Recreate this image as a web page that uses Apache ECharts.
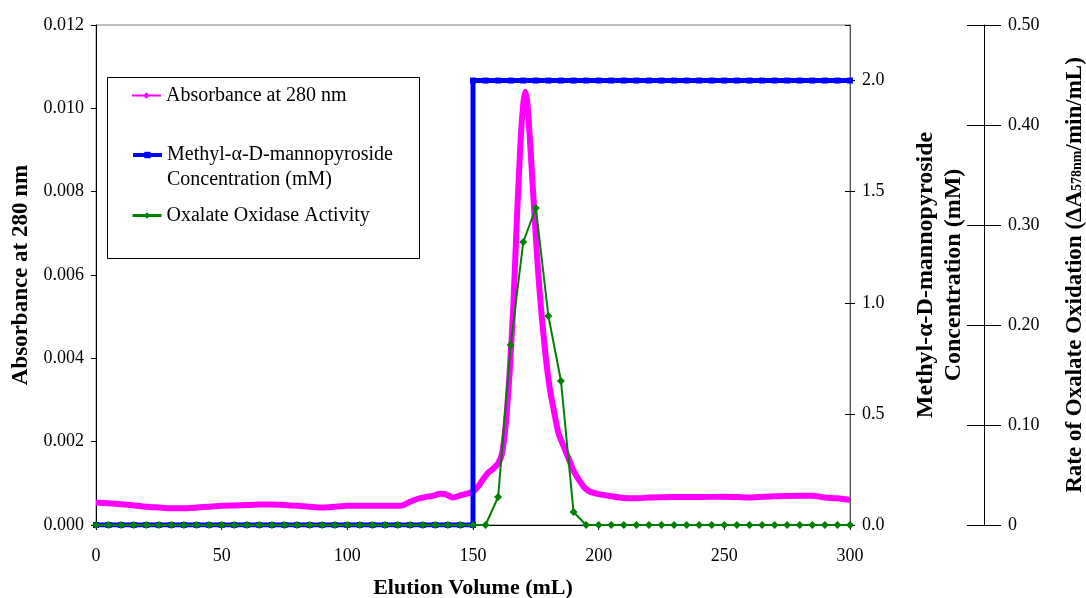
<!DOCTYPE html>
<html><head><meta charset="utf-8">
<script src="https://cdn.jsdelivr.net/npm/echarts@6/dist/echarts.min.js"></script>
<style>html,body{margin:0;padding:0;background:#fff}#c{width:1086px;height:598px}</style>
</head><body><div id="c"></div>
<script>
// ---- data ----
const absVol = [0,5,10,15,20,25,30,35,40,45,50,55,60,65,70,75,80,85,90,95,100,105,110,115,120,122,125,128,131,134,137,139,142,145,148,150,152,154,156,158,160,161.5,163,164.5,166,167.5,169,170,170.8,171.7,173,174.5,176,177.5,179,180.5,182,184,186,188,190,192,194,196,198,200,205,210,215,220,230,240,250,260,270,280,285,290,295,300];
const absVal = [0.00054,0.00052,0.0005,0.00047,0.00044,0.00042,0.0004,0.0004,0.00042,0.00044,0.00046,0.00047,0.00048,0.00049,0.00049,0.00048,0.00046,0.00044,0.00042,0.00044,0.00046,0.00046,0.00046,0.00046,0.00046,0.00047,0.00056,0.00063,0.00067,0.0007,0.00075,0.00074,0.00066,0.00071,0.00076,0.0008,0.00092,0.0011,0.00125,0.00135,0.00148,0.0017,0.0024,0.0036,0.0052,0.0074,0.0093,0.0101,0.0104,0.0101,0.0089,0.0074,0.006,0.0049,0.004,0.0033,0.0028,0.0022,0.0019,0.0016,0.0013,0.0011,0.00092,0.00082,0.00077,0.00074,0.00069,0.00065,0.00064,0.00066,0.00067,0.00067,0.00068,0.00066,0.00069,0.0007,0.0007,0.00066,0.00064,0.0006];

const concVol = [0,5,10,15,20,25,30,35,40,45,50,55,60,65,70,75,80,85,90,95,100,105,110,115,120,125,130,135,140,145,150,150,155,160,165,170,175,180,185,190,195,200,205,210,215,220,225,230,235,240,245,250,255,260,265,270,275,280,285,290,295,300];
const concVal = [0,0,0,0,0,0,0,0,0,0,0,0,0,0,0,0,0,0,0,0,0,0,0,0,0,0,0,0,0,0,0,2,2,2,2,2,2,2,2,2,2,2,2,2,2,2,2,2,2,2,2,2,2,2,2,2,2,2,2,2,2,2];

const actVol = [0,5,10,15,20,25,30,35,40,45,50,55,60,65,70,75,80,85,90,95,100,105,110,115,120,125,130,135,140,145,150,155,160,165,170,175,180,185,190,195,200,205,210,215,220,225,230,235,240,245,250,255,260,265,270,275,280,285,290,295,300];
const actVal = [0,0,0,0,0,0,0,0,0,0,0,0,0,0,0,0,0,0,0,0,0,0,0,0,0,0,0,0,0,0,0,0,0.028,0.18,0.283,0.317,0.209,0.144,0.013,0,0,0,0,0,0,0,0,0,0,0,0,0,0,0,0,0,0,0,0,0,0];

const NAME_ABS = 'Absorbance at 280 nm';
const NAME_CONC = 'Methyl-α-D-mannopyroside\nConcentration (mM)';
const NAME_ACT = 'Oxalate Oxidase Activity';

const xTitle = 'Elution Volume (mL)';
const yLeftTitle = 'Absorbance at 280 nm';
const yConcTitle = 'Methyl-α-D-mannopyroside\nConcentration (mM)';

// ---- chart ----
const F = 'Liberation Serif';
const zip = (xs, ys) => xs.map((x, i) => [x, ys[i]]);
const chart = echarts.init(document.getElementById('c'), null, {renderer: 'canvas'});
const lab = {fontFamily: F, fontSize: 18, color: '#000'};
const legText = {fontFamily: F, fontSize: 20, color: '#000', lineHeight: 25};

chart.setOption({
  animation: false,
  backgroundColor: '#fff',
  grid: {left: 96, right: 236, top: 25, bottom: 73, show: true, borderColor: '#808080', borderWidth: 1, containLabel: false, outerBoundsMode: 'none'},
  graphic: [{type: 'rect', shape: {x: 107.5, y: 77.5, width: 312, height: 181}, style: {fill: 'none', stroke: '#000', lineWidth: 1}, z: 10}],
  legend: [
    {data: [NAME_ABS], left: 131, top: 83, orient: 'vertical', padding: 0, itemWidth: 29, itemHeight: 8, selectedMode: false, textStyle: legText, lineStyle: {width: 2}},
    {data: [NAME_CONC], left: 131, top: 117.5, orient: 'vertical', padding: 0, itemWidth: 29, itemHeight: 8, selectedMode: false, textStyle: legText, lineStyle: {width: 4}, formatter: n => ' \n' + n},
    {data: [NAME_ACT], left: 131, top: 203, orient: 'vertical', padding: 0, itemWidth: 29, itemHeight: 8, selectedMode: false, textStyle: legText, lineStyle: {width: 3}}
  ],
  xAxis: {
    type: 'value', min: 0, max: 300, interval: 50,
    name: xTitle, nameLocation: 'middle', nameGap: 52,
    nameTextStyle: {fontFamily: F, fontSize: 22, fontWeight: 'bold', color: '#000'},
    axisLine: {lineStyle: {color: '#000', width: 1}},
    axisTick: {inside: false, length: 5, lineStyle: {color: '#000'}},
    axisLabel: Object.assign({margin: 22}, lab),
    splitLine: {show: false}
  },
  yAxis: [
    {
      type: 'value', min: 0, max: 0.012, interval: 0.002, position: 'left',
      name: yLeftTitle, nameLocation: 'middle', nameGap: 61, nameRotate: 90,
      nameTextStyle: {fontFamily: F, fontSize: 23, fontWeight: 'bold', color: '#000'},
      axisLine: {show: true, lineStyle: {color: '#000'}},
      axisTick: {show: true, length: 5, lineStyle: {color: '#000'}},
      axisLabel: Object.assign({margin: 12, formatter: v => v.toFixed(3)}, lab),
      splitLine: {show: false}
    },
    {
      type: 'value', min: 0, max: 2.25, interval: 0.5, position: 'right',
      name: yConcTitle, nameLocation: 'middle', nameGap: 62, nameRotate: 90,
      nameTextStyle: {fontFamily: F, fontSize: 24, fontWeight: 'bold', color: '#000', lineHeight: 28, align: 'center'},
      axisLine: {show: true, lineStyle: {color: '#555'}},
      axisTick: {show: true, length: 5, lineStyle: {color: '#000'}},
      axisLabel: Object.assign({margin: 12, showMaxLabel: false, formatter: v => v.toFixed(1)}, lab),
      splitLine: {show: false}
    },
    {
      type: 'value', min: 0, max: 0.5, interval: 0.1, position: 'right', offset: 134,
      name: '{b|Rate of Oxalate Oxidation (ΔA}{s|578nm}{b|/min/mL)}', nameLocation: 'middle', nameGap: 80, nameRotate: 90,
      nameTextStyle: {rich: {
        b: {fontFamily: F, fontSize: 23, fontWeight: 'bold', color: '#000', lineHeight: 22},
        s: {fontFamily: F, fontSize: 14, fontWeight: 'bold', color: '#000', lineHeight: 22, padding: [5, 0, 0, 0]}
      }},
      axisLine: {show: true, lineStyle: {color: '#000'}},
      axisTick: {show: true, length: 17, lineStyle: {color: '#000'}},
      axisLabel: Object.assign({margin: 24, formatter: v => v === 0 ? '0' : v.toFixed(2)}, lab),
      splitLine: {show: false}
    },
    {
      type: 'value', min: 0, max: 2.25, interval: 0.5, position: 'right',
      axisLine: {show: false}, axisTick: {show: true, inside: true, length: 5, lineStyle: {color: '#000'}},
      axisLabel: {show: false}, splitLine: {show: false}
    },
    {
      type: 'value', min: 0, max: 0.5, interval: 0.1, position: 'right', offset: 134,
      axisLine: {show: false}, axisTick: {show: true, inside: true, length: 17, lineStyle: {color: '#000'}},
      axisLabel: {show: false}, splitLine: {show: false}
    }
  ],
  series: [
    {
      name: NAME_ABS, type: 'line', yAxisIndex: 0, data: zip(absVol, absVal),
      smooth: 0.2, symbol: 'diamond', symbolSize: 4, showSymbol: false,
      lineStyle: {color: '#FF00FF', width: 6}, itemStyle: {color: '#FF00FF'}, z: 2
    },
    {
      name: NAME_CONC, type: 'line', yAxisIndex: 1, data: zip(concVol, concVal),
      symbol: 'rect', symbolSize: 6,
      lineStyle: {color: '#0000FF', width: 5}, itemStyle: {color: '#0000FF'}, z: 3
    },
    {
      name: NAME_ACT, type: 'line', yAxisIndex: 2, data: zip(actVol, actVal),
      symbol: 'diamond', symbolSize: 8,
      lineStyle: {color: '#008000', width: 2}, itemStyle: {color: '#008000'}, z: 4
    }
  ]
});
</script>
</body></html>
